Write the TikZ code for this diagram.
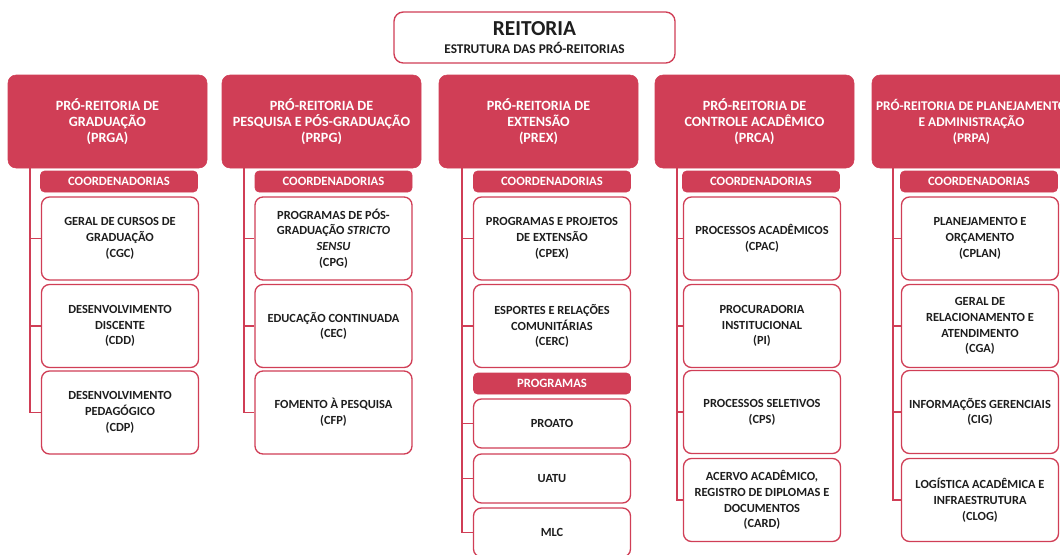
\documentclass[tikz,border=0pt]{standalone}
\usepackage{fontspec}
\setmainfont{Carlito}
\definecolor{unired}{RGB}{208,62,86}
\definecolor{boxtext}{RGB}{30,30,30}
\tikzset{
  prorei/.style={draw=unired, fill=unired, rounded corners=6pt, text=white, align=center, inner sep=0pt,
    font=\bfseries\fontsize{10.6}{12}\selectfont, minimum width=149.25pt, minimum height=69.75pt},
  faixa/.style={draw=unired, fill=unired, rounded corners=3pt, text=white, inner sep=0pt,
    font=\bfseries\fontsize{9.5}{11}\selectfont, minimum width=117.75pt, minimum height=15.75pt},
  coordbox/.style={draw=unired, line width=1pt, fill=white, rounded corners=6pt, text=boxtext, align=center, inner sep=0pt,
    font=\bfseries\fontsize{9.3}{11.8}\selectfont, minimum width=117.75pt, minimum height=62.25pt},
  progbox/.style={coordbox, minimum height=36.75pt},
  ramo/.style={draw=unired, line width=1pt}
}
\begin{document}
\begin{tikzpicture}[x=0.75pt,y=0.75pt,yscale=-1]
\useasboundingbox (0,0) rectangle (1060,554);
\clip (0,0) rectangle (1060,554);

% Reitoria
\node (reit) at (534.5,37.5) [draw=unired, line width=1pt, fill=white, rounded corners=7pt, text=boxtext, align=center, inner sep=0pt,
  minimum width=210.75pt, minimum height=38.25pt]
  {{\bfseries\fontsize{16}{17}\selectfont REITORIA}\\[1pt]{\bfseries\fontsize{10}{11}\selectfont ESTRUTURA DAS PRÓ-REITORIAS}};

% Pro-reitorias
\node (prga) at (107.5,121.5) [prorei] {PRÓ-REITORIA DE\\GRADUAÇÃO\\(PRGA)};
\node (prpg) at (321.5,121.5) [prorei] {PRÓ-REITORIA DE\\PESQUISA E PÓS-GRADUAÇÃO\\(PRPG)};
\node (prex) at (538.5,121.5) [prorei] {PRÓ-REITORIA DE\\EXTENSÃO\\(PREX)};
\node (prca) at (754.5,121.5) [prorei] {PRÓ-REITORIA DE\\CONTROLE ACADÊMICO\\(PRCA)};
\node (prpa) at (971.5,121.5) [prorei, font=\bfseries\fontsize{10}{12}\selectfont] {PRÓ-REITORIA DE PLANEJAMENTO\\E ADMINISTRAÇÃO\\(PRPA)};

% Faixas
\node (f1) at (119,181.5) [faixa] {COORDENADORIAS};
\node (f2) at (333.5,181.5) [faixa] {COORDENADORIAS};
\node (f3) at (552,181.5) [faixa] {COORDENADORIAS};
\node (f4) at (761,181.5) [faixa] {COORDENADORIAS};
\node (f5) at (979,181.5) [faixa] {COORDENADORIAS};
\node (f3b) at (552,383.5) [faixa] {PROGRAMAS};

% PRGA
\node (cgc) at (120,238.5) [coordbox] {GERAL DE CURSOS DE\\GRADUAÇÃO\\(CGC)};
\node (cdd) at (120,326) [coordbox] {DESENVOLVIMENTO\\DISCENTE\\(CDD)};
\node (cdp) at (120,412.5) [coordbox] {DESENVOLVIMENTO\\PEDAGÓGICO\\(CDP)};

% PRPG
\node (cpg) at (333.5,238.5) [coordbox] {PROGRAMAS DE PÓS-\\GRADUAÇÃO \textit{STRICTO}\\\textit{SENSU}\\(CPG)};
\node (cec) at (333.5,326) [coordbox] {EDUCAÇÃO CONTINUADA\\(CEC)};
\node (cfp) at (333.5,412.5) [coordbox] {FOMENTO À PESQUISA\\(CFP)};

% PREX
\node (cpex) at (552,238.5) [coordbox] {PROGRAMAS E PROJETOS\\DE EXTENSÃO\\(CPEX)};
\node (cerc) at (552,326) [coordbox] {ESPORTES E RELAÇÕES\\COMUNITÁRIAS\\(CERC)};
\node (proato) at (552,423.5) [progbox] {PROATO};
\node (uatu) at (552,478.5) [progbox] {UATU};
\node (mlc) at (552,532.5) [progbox] {MLC};

% PRCA
\node (cpac) at (762,238.5) [coordbox] {PROCESSOS ACADÊMICOS\\(CPAC)};
\node (pi) at (762,326) [coordbox] {PROCURADORIA\\INSTITUCIONAL\\(PI)};
\node (cps) at (762,412) [coordbox] {PROCESSOS SELETIVOS\\(CPS)};
\node (card) at (762,500) [coordbox] {ACERVO ACADÊMICO,\\REGISTRO DE DIPLOMAS E\\DOCUMENTOS\\(CARD)};

% PRPA
\node (cplan) at (980,238.5) [coordbox] {PLANEJAMENTO E\\ORÇAMENTO\\(CPLAN)};
\node (cga) at (980,326) [coordbox] {GERAL DE\\RELACIONAMENTO E\\ATENDIMENTO\\(CGA)};
\node (cig) at (980,412) [coordbox] {INFORMAÇÕES GERENCIAIS\\(CIG)};
\node (clog) at (980,500) [coordbox] {LOGÍSTICA ACADÊMICA E\\INFRAESTRUTURA\\(CLOG)};

% Ramos
\coordinate (r1) at (30,167);
\coordinate (r2) at (244,167);
\coordinate (r3) at (462,167);
\coordinate (r4) at (677,167);
\coordinate (r5) at (893,167);
\foreach \n in {cgc,cdd,cdp} \draw[ramo] (r1) |- (\n.west);
\foreach \n in {cpg,cec,cfp} \draw[ramo] (r2) |- (\n.west);
\foreach \n in {cpex,cerc,proato,uatu,mlc} \draw[ramo] (r3) |- (\n.west);
\foreach \n in {cpac,pi,cps,card} \draw[ramo] (r4) |- (\n.west);
\foreach \n in {cplan,cga,cig,clog} \draw[ramo] (r5) |- (\n.west);

\end{tikzpicture}
\end{document}
